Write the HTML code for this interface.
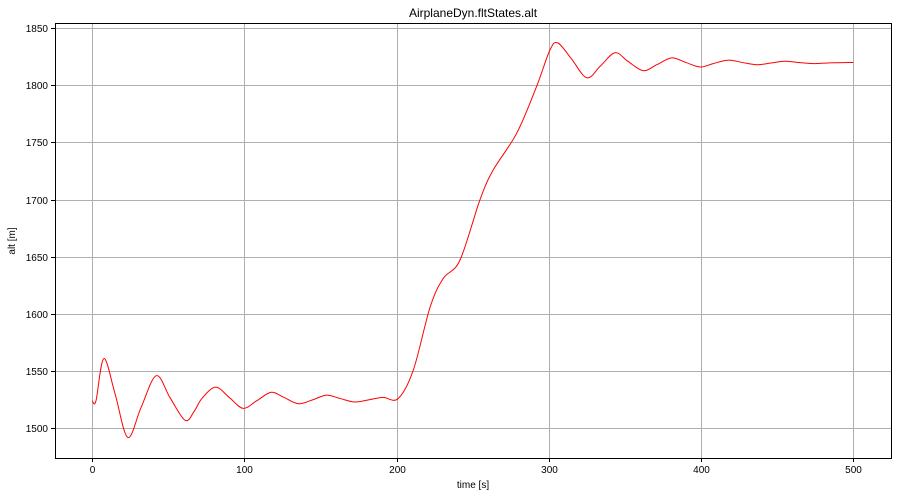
<!DOCTYPE html>
<html><head><meta charset="utf-8"><style>
body{margin:0;background:#fff;}
svg{display:block;font-family:"Liberation Sans","DejaVu Sans",sans-serif;}
</style></head><body>
<svg id="chart" width="897" height="496" viewBox="0 0 897 496">
<rect x="0" y="0" width="897" height="496" fill="#fff"/>
<g id="grid"></g>
<g id="ticks"></g>
<path id="line" fill="none" stroke="#ff0000" stroke-width="1"/>
<rect x="55.5" y="23.5" width="836" height="435" fill="none" stroke="#000" stroke-width="1"/>
<text x="473" y="17" font-size="12" text-anchor="middle">AirplaneDyn.fltStates.alt</text>
<text x="473" y="488" font-size="10" text-anchor="middle">time [s]</text>
<text transform="translate(15,241) rotate(-90)" font-size="10" text-anchor="middle">alt [m]</text>
</svg>
<script>
const times=[0,2.4,7.6,15,23.3,32,42,51,61,67,72,81,90,99,108,117.5,126,135.5,145,154,163,172.6,182,191,201,211,222,230.6,241.6,254.8,263.5,278.9,292,300.8,306,315,325,334,343.5,352,362,371,380.8,390,399.5,408,418,427,436.7,446,455,464,474,487,500];
const alts=[1524,1524,1561,1530,1492,1518,1546,1527,1507,1515,1526,1536,1527,1517.5,1524,1531.5,1527,1521.5,1525,1529,1526,1523,1525,1527,1526,1551,1606,1631,1647,1700,1726,1758,1799,1831,1837,1823,1806.6,1817,1828.5,1821,1812.8,1818,1824,1820,1816,1819,1822,1820,1818,1819.5,1821,1820,1819,1819.7,1820];
const xTicks=[0,100,200,300,400,500];
const yTicks=[1500,1550,1600,1650,1700,1750,1800,1850];
const NS='http://www.w3.org/2000/svg';
const L=55,R=891,T=23,B=458;
function xs(t){return 92.3+(t-0)*1.5216;}
function ys(v){return 428.3-(v-1500)*1.1433;}
const grid=document.getElementById('grid'),ticks=document.getElementById('ticks');
function mk(tag,attrs,parent){const e=document.createElementNS(NS,tag);for(const k in attrs)e.setAttribute(k,attrs[k]);parent.appendChild(e);return e;}
xTicks.forEach(t=>{const x=Math.round(xs(t))+0.5;
 const g=mk('line',{x1:x,x2:x,y1:T,y2:B,stroke:'#b0b0b0','stroke-width':1},grid);
 
 
 const tk=mk('line',{x1:x,x2:x,y1:B,y2:B+4,stroke:'#000'},ticks);
 
 
 const tx=mk('text',{x:x,y:B+15,'font-size':10,'text-anchor':'middle'},ticks);tx.textContent=t;
 
 
});
yTicks.forEach(v=>{const y=Math.round(ys(v))+0.5;
 const g=mk('line',{x1:L,x2:R,y1:y,y2:y,stroke:'#b0b0b0','stroke-width':1},grid);
 
 
 const tk=mk('line',{x1:L-4,x2:L,y1:y,y2:y,stroke:'#000'},ticks);
 
 
 const tx=mk('text',{x:L-7,y:y+3.5,'font-size':10,'text-anchor':'end'},ticks);tx.textContent=v;
 
 
});
// Catmull-Rom spline path
const px=times.map(xs),py=alts.map(ys),n=px.length;
let p='M'+px[0].toFixed(2)+','+py[0].toFixed(2);
for(let i=0;i<n-1;i++){
 const i0=Math.max(0,i-1),i3=Math.min(n-1,i+2);
 const c1x=px[i]+(px[i+1]-px[i0])/6,c1y=py[i]+(py[i+1]-py[i0])/6;
 const c2x=px[i+1]-(px[i3]-px[i])/6,c2y=py[i+1]-(py[i3]-py[i])/6;
 p+=' C'+c1x.toFixed(2)+','+c1y.toFixed(2)+' '+c2x.toFixed(2)+','+c2y.toFixed(2)+' '+px[i+1].toFixed(2)+','+py[i+1].toFixed(2);
}
document.getElementById('line').setAttribute('d',p);
</script>
</body></html>
